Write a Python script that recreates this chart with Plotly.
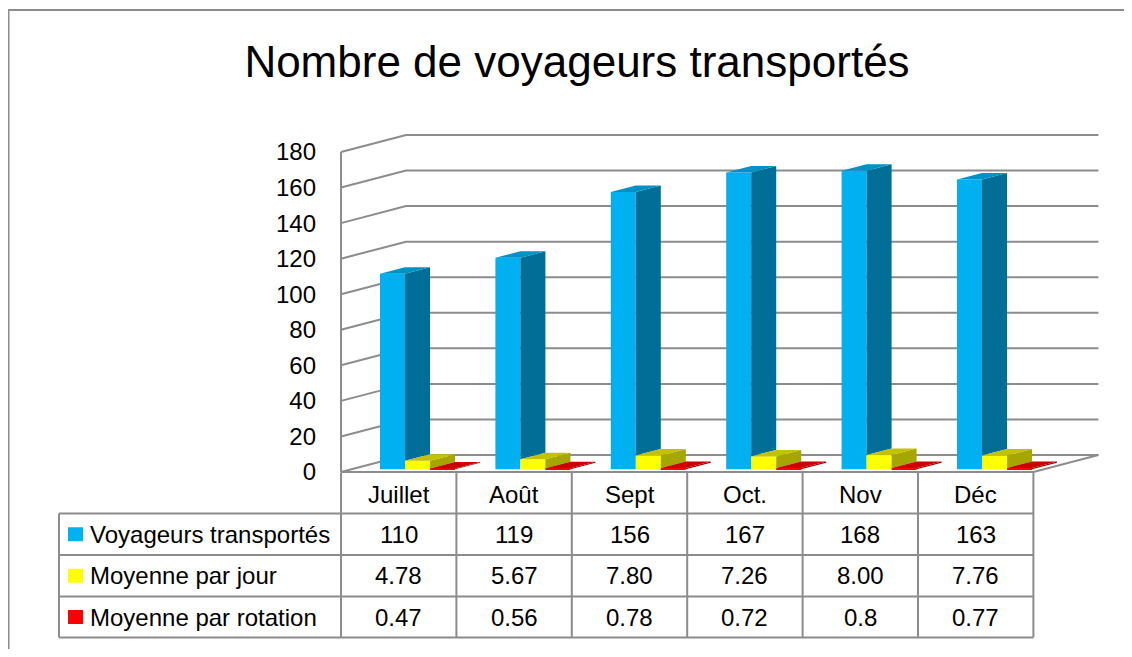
import plotly.graph_objects as go

# ---------------- data ----------------
categories = ["Juillet", "Août", "Sept", "Oct.", "Nov", "Déc"]
series_names = ["Voyageurs transportés", "Moyenne par jour", "Moyenne par rotation"]
voyageurs = [110, 119, 156, 167, 168, 163]
moyenne_jour = [4.78, 5.67, 7.80, 7.26, 8.00, 7.76]
moyenne_rotation = [0.47, 0.56, 0.78, 0.72, 0.8, 0.77]
voyageurs_labels = ["110", "119", "156", "167", "168", "163"]
moyenne_jour_labels = ["4.78", "5.67", "7.80", "7.26", "8.00", "7.76"]
moyenne_rotation_labels = ["0.47", "0.56", "0.78", "0.72", "0.8", "0.77"]
y_ticks = [0, 20, 40, 60, 80, 100, 120, 140, 160, 180]
title_text = "Nombre de voyageurs transportés"

# ---------------- styles / geometry (screen pixels) ----------------
OFF = 8                                # page body margin
W, H = 1132 - 2 * OFF, 657 - 2 * OFF   # fit inside the window without scrollbars
FONT = "Liberation Sans, Arial, sans-serif"
X0_PX, CAT_PX = 341.0, 115.4          # pixel of category origin, px per category
Y0_PX, PX_PER_V = 472.0, 320.0 / 180  # pixel of value 0, px per value unit
WALL_DX, WALL_DY = 65.0, 17.0         # 3D depth of the back wall
BAR_OFFS = [39.0, 64.0, 89.0]         # front-left of each series within category
BAR_W = 25.0
BAR_DX, BAR_DY = 25.0, 6.5            # bar depth projection
BAR_LIFT = 2.7                         # bars sit slightly behind front edge
GRID = "#8c8c8c"
FRONT = ["#00B0F0", "#FFFF00", "#FF0000"]
SIDE = ["#006E96", "#A6A600", "#A00000"]
TOP = ["#0091C7", "#C2C200", "#CC0000"]

def dxu(px):
    return px / CAT_PX

def dyu(px):
    return px / PX_PER_V

def paper_x(px):
    return (px - OFF) / W

def paper_y(py):
    return 1 - (py - OFF) / H

values = [voyageurs, moyenne_jour, moyenne_rotation]
labels = [voyageurs_labels, moyenne_jour_labels, moyenne_rotation_labels]
n = len(categories)

fig = go.Figure()

b0 = dyu(BAR_LIFT)
ddx, ddy = dxu(BAR_DX), dyu(BAR_DY)

# front faces: real bar traces
for k, vals in enumerate(values):
    fig.add_trace(go.Bar(
        x=[i + dxu(BAR_OFFS[k] + BAR_W / 2) for i in range(n)],
        y=vals, base=[b0] * n, width=dxu(BAR_W),
        marker=dict(color=FRONT[k], line=dict(width=0)),
        name=series_names[k], showlegend=False, hoverinfo="skip"))

# side and top faces (scatter fills, drawn above bars)
for k, vals in enumerate(values):
    sx, sy, tx, ty = [], [], [], []
    for i, v in enumerate(vals):
        xfl = i + dxu(BAR_OFFS[k])
        xl = xfl + dxu(BAR_W)
        xr = xl + ddx
        hb = b0 + (values[k + 1][i] if k + 1 < len(values) else 0)
        top = b0 + v
        sx += [xl, xr, xr, xl, xl, None]
        sy += [hb, hb + ddy, top + ddy, top, hb, None]
        tx += [xfl, xl, xr, xfl + ddx, xfl, None]
        ty += [top, top, top + ddy, top + ddy, top, None]
    fig.add_trace(go.Scatter(x=sx, y=sy, mode="lines", fill="toself",
                             fillcolor=SIDE[k], line=dict(width=0),
                             showlegend=False, hoverinfo="skip"))
    fig.add_trace(go.Scatter(x=tx, y=ty, mode="lines", fill="toself",
                             fillcolor=TOP[k], line=dict(width=0),
                             showlegend=False, hoverinfo="skip"))

shapes = []
wdx, wdy = dxu(WALL_DX), dyu(WALL_DY)
# back wall gridlines (below traces)
for v in y_ticks:
    shapes.append(dict(type="path", xref="x", yref="y", layer="below",
                       path=f"M 0,{v} L {wdx},{v + wdy} L {n + wdx},{v + wdy}",
                       line=dict(color=GRID, width=2)))
# front vertical axis line
shapes.append(dict(type="line", xref="x", yref="y", layer="below",
                   x0=0, y0=0, x1=0, y1=y_ticks[-1], line=dict(color=GRID, width=2)))
# floor front and right edge
shapes.append(dict(type="path", xref="x", yref="y", layer="below",
                   path=f"M 0,0 L {n},0 L {n + wdx},{wdy}",
                   line=dict(color=GRID, width=2)))

# ---------------- data table ----------------
ROWS = [472.5, 513.5, 555.0, 596.5, 637.5]
LABEL_LEFT = 59.0
col_edges = [X0_PX + i * CAT_PX for i in range(n + 1)]
TLINE = dict(color=GRID, width=2)
for r in ROWS[1:]:
    shapes.append(dict(type="line", xref="paper", yref="paper",
                       x0=paper_x(LABEL_LEFT), x1=paper_x(col_edges[-1]),
                       y0=paper_y(r), y1=paper_y(r), line=TLINE))
shapes.append(dict(type="line", xref="paper", yref="paper",
                   x0=paper_x(LABEL_LEFT), x1=paper_x(LABEL_LEFT),
                   y0=paper_y(ROWS[1]), y1=paper_y(ROWS[-1]), line=TLINE))
for cx in col_edges:
    shapes.append(dict(type="line", xref="paper", yref="paper",
                       x0=paper_x(cx), x1=paper_x(cx),
                       y0=paper_y(ROWS[0]), y1=paper_y(ROWS[-1]), line=TLINE))

annotations = []
TFONT = dict(family=FONT, size=24, color="black")
for i, c in enumerate(categories):
    cxm = (col_edges[i] + col_edges[i + 1]) / 2
    annotations.append(dict(text=c, x=paper_x(cxm), y=paper_y((ROWS[0] + ROWS[1]) / 2 + 1),
                            xref="paper", yref="paper", showarrow=False,
                            xanchor="center", yanchor="middle", font=TFONT))
for k in range(3):
    ym = (ROWS[k + 1] + ROWS[k + 2]) / 2
    # legend key
    shapes.append(dict(type="rect", xref="paper", yref="paper",
                       x0=paper_x(68), x1=paper_x(83), y0=paper_y(ym - 7), y1=paper_y(ym + 7),
                       fillcolor=FRONT[k], line=dict(width=0)))
    annotations.append(dict(text=series_names[k], x=paper_x(88), y=paper_y(ym),
                            xref="paper", yref="paper", showarrow=False,
                            xanchor="left", yanchor="middle", font=TFONT))
    for i in range(n):
        cxm = (col_edges[i] + col_edges[i + 1]) / 2
        annotations.append(dict(text=labels[k][i], x=paper_x(cxm), y=paper_y(ym),
                                xref="paper", yref="paper", showarrow=False,
                                xanchor="center", yanchor="middle", font=TFONT))

# outer chart border: only the top and left edges are inside the picture
shapes.append(dict(type="path", xref="paper", yref="paper",
                   path=f"M {paper_x(8.5)},{paper_y(700)} L {paper_x(8.5)},{paper_y(10)} L {paper_x(1160)},{paper_y(10)}",
                   line=dict(color=GRID, width=2)))

fig.update_layout(
    width=W, height=H,
    margin=dict(l=0, r=0, t=0, b=0, pad=0),
    paper_bgcolor="white", plot_bgcolor="white",
    barmode="overlay", showlegend=False,
    title=dict(text=title_text, x=paper_x(577), y=paper_y(62), xref="container", yref="container",
               xanchor="center", yanchor="middle",
               font=dict(family=FONT, size=44, color="black")),
    xaxis=dict(range=[-(X0_PX - OFF) / CAT_PX, (W - (X0_PX - OFF)) / CAT_PX],
               visible=False, fixedrange=True),
    yaxis=dict(range=[(Y0_PX - OFF - H) / PX_PER_V, (Y0_PX - OFF) / PX_PER_V],
               tickvals=y_ticks, ticktext=[str(v) for v in y_ticks],
               showgrid=False, zeroline=False, showline=False, ticks="",
               anchor="free", position=paper_x(316), automargin=False,
               tickfont=dict(family=FONT, size=24, color="black"), fixedrange=True),
    shapes=shapes, annotations=annotations,
)

fig.write_html("out.html")
